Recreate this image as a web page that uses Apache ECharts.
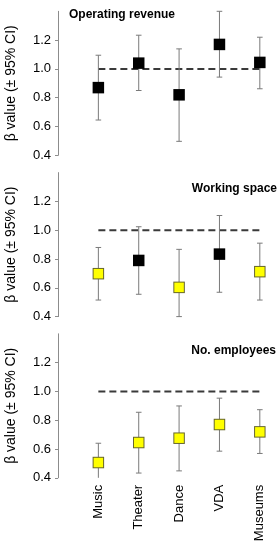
<!DOCTYPE html>
<html>
<head>
<meta charset="utf-8">
<script src="https://cdn.jsdelivr.net/npm/echarts@6/dist/echarts.min.js"></script>
<style>
html,body{margin:0;padding:0;background:#fff;}
#wrap{position:relative;width:280px;height:550px;overflow:hidden;background:#fff;}
.p{position:absolute;left:0;width:280px;}
#p0{top:0;height:161px;}
#p1{top:161px;height:161px;}
#p2{top:322px;height:228px;}
</style>
</head>
<body>
<div id="wrap"><div id="p0" class="p"></div><div id="p1" class="p"></div><div id="p2" class="p"></div></div>
<script>
// ---- data ----
const categories = ['Music', 'Theater', 'Dance', 'VDA', 'Museums'];
const panelTitles = ['Operating revenue', 'Working space', 'No. employees'];
const yTicks = [0.4, 0.6, 0.8, 1.0, 1.2];
const referenceBeta = 1.0;

const revenueBeta = [0.87, 1.04, 0.82, 1.17, 1.045];
const revenueLow  = [0.645, 0.85, 0.497, 0.943, 0.862];
const revenueHigh = [1.095, 1.234, 1.139, 1.40, 1.22];

const spaceBeta = [0.698, 0.79, 0.603, 0.834, 0.712];
const spaceLow  = [0.515, 0.555, 0.40, 0.569, 0.515];
const spaceHigh = [0.88, 1.024, 0.867, 1.102, 0.91];

const employeesBeta = [0.506, 0.645, 0.675, 0.77, 0.719];
const employeesLow  = [0.37, 0.433, 0.448, 0.585, 0.569];
const employeesHigh = [0.64, 0.855, 0.899, 0.953, 0.873];

// ---- chart ----
const FONT = 'Liberation Sans, Arial, sans-serif';
const Y_MIN = 0.4, Y_MAX = 1.4;
const panels = [
  {beta: revenueBeta, low: revenueLow, high: revenueHigh},
  {beta: spaceBeta, low: spaceLow, high: spaceHigh},
  {beta: employeesBeta, low: employeesLow, high: employeesHigh}
];
const gridTops = [11.3, 11.6, 11.8];
const titleLayout = [
  {left: 69, top: 9},
  {right: 3, top: 22},
  {right: 4, top: 23}
];

panels.forEach((p, i) => {
  const last = i === 2;
  const pts = categories.map((c, k) => [k + 1, p.beta[k], p.low[k], p.high[k]]);
  const option = {
    animation: false,
    backgroundColor: '#fff',
    grid: {left: 58, width: 222, top: gridTops[i], height: 144, show: false,
      containLabel: false, outerBoundsMode: 'none'},
    xAxis: {
      type: 'value', min: 0, max: 5.5, interval: 1, show: last,
      axisLine: {show: false}, axisTick: {show: false}, splitLine: {show: false},
      axisLabel: {
        show: last, rotate: 90, margin: 7, fontSize: 13, color: '#000', fontFamily: FONT,
        customValues: [1, 2, 3, 4, 5],
        formatter: v => categories[Math.round(v) - 1] || ''
      }
    },
    yAxis: {
      type: 'value', min: Y_MIN, max: Y_MAX, interval: 0.2,
      name: 'β value (± 95% CI)', nameLocation: 'middle', nameGap: 40,
      nameTextStyle: {fontSize: 14, color: '#000', fontFamily: FONT},
      axisLine: {show: true, lineStyle: {color: '#8c8c8c', width: 1}},
      axisTick: {show: true, length: 3, lineStyle: {color: '#8c8c8c'}, customValues: yTicks},
      splitLine: {show: false},
      axisLabel: {fontSize: 13, color: '#000', margin: 7, fontFamily: FONT,
        customValues: yTicks, formatter: v => v.toFixed(1)}
    },
    series: [
      {
        type: 'line', z: 1,
        data: [[1, referenceBeta], [5, referenceBeta]],
        symbol: 'none', silent: true,
        lineStyle: {color: '#3a3a3a', width: 2, type: [7, 4]}
      },
      {
        type: 'custom', clip: false, z: 2, silent: true,
        data: pts,
        renderItem: (params, api) => {
          const x = api.value(0);
          const lowV = api.value(2), highV = api.value(3);
          const c = api.coord([x, api.value(1)]);
          const lo = api.coord([x, Math.max(lowV, Y_MIN)]);
          const hi = api.coord([x, Math.min(highV, Y_MAX)]);
          const cw = 2.8, s = 11.5;
          const below = highV < referenceBeta;
          const style = {stroke: '#7a7a7a', lineWidth: 1, fill: null};
          const children = [
            {type: 'line', shape: {x1: lo[0], y1: lo[1], x2: hi[0], y2: hi[1]}, style},
            {type: 'line', shape: {x1: hi[0] - cw, y1: hi[1], x2: hi[0] + cw, y2: hi[1]}, style}
          ];
          if (lowV >= Y_MIN) {
            children.push({type: 'line', shape: {x1: lo[0] - cw, y1: lo[1], x2: lo[0] + cw, y2: lo[1]}, style});
          }
          if (below) {
            children.push({type: 'rect', shape: {x: c[0] - s / 2, y: c[1] - s / 2, width: s, height: s},
              style: {fill: '#66662e'}});
            children.push({type: 'rect', shape: {x: c[0] - s / 2 + 1, y: c[1] - s / 2 + 1, width: s - 2, height: s - 2},
              style: {fill: '#ffff00'}});
          } else {
            children.push({type: 'rect', shape: {x: c[0] - s / 2, y: c[1] - s / 2, width: s, height: s},
              style: {fill: '#000000'}});
          }
          return {type: 'group', children};
        }
      }
    ],
    graphic: [
      Object.assign({type: 'text', style: {text: panelTitles[i], font: 'bold 12px ' + FONT, fill: '#000'}}, titleLayout[i])
    ]
  };
  const chart = echarts.init(document.getElementById('p' + i), null, {renderer: 'canvas'});
  chart.setOption(option);
});
</script>
</body>
</html>
